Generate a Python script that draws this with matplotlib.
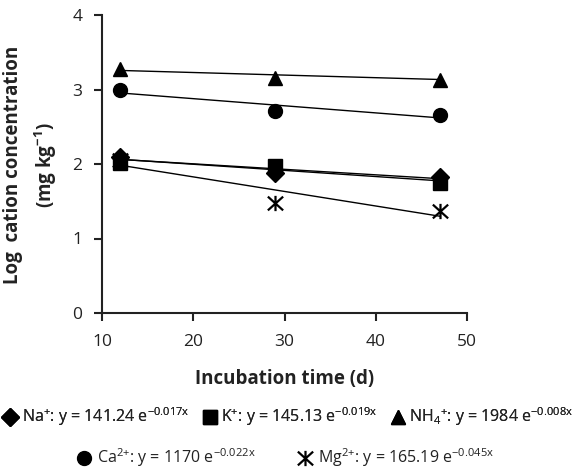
import matplotlib
matplotlib.use("Agg")
import matplotlib.pyplot as plt
import numpy as np
from matplotlib.path import Path
from matplotlib.lines import Line2D

plt.rcParams['font.family'] = ['Open Sans', 'DejaVu Sans']
plt.rcParams['mathtext.fontset'] = 'custom'
plt.rcParams['mathtext.rm'] = 'Open Sans'
plt.rcParams['mathtext.default'] = 'regular'

# ---- data ----
days = [12, 29, 47]
na_log = [2.10, 1.88, 1.82]
k_log = [2.02, 1.97, 1.75]
nh4_log = [3.27, 3.16, 3.13]
ca_log = [2.99, 2.71, 2.66]
mg_log = [2.05, 1.47, 1.37]

# exponential fit coefficients y = a * exp(b x) (from the legend)
na_fit = (141.24, -0.017)
k_fit = (145.13, -0.019)
nh4_fit = (1984, -0.008)
ca_fit = (1170, -0.022)
mg_fit = (165.19, -0.045)

labels = [
    r'Na$^{{+}}$: y = 141.24 e$^{-0.017x}$',
    r'K$^{{+}}$: y = 145.13 e$^{-0.019x}$',
    r'NH$_{4}$$^{{+}}$: y = 1984 e$^{-0.008x}$',
    r'Ca$^{2{+}}$: y = 1170 e$^{-0.022x}$',
    r'Mg$^{2{+}}$: y = 165.19 e$^{-0.045x}$',
]

xticks = [10, 20, 30, 40, 50]
yticks = [0, 1, 2, 3, 4]

star = Path([(-1, -0.9), (1, 0.9), (-1, 0.9), (1, -0.9), (0, -1), (0, 1)],
            [Path.MOVETO, Path.LINETO, Path.MOVETO, Path.LINETO, Path.MOVETO, Path.LINETO])

fig = plt.figure(figsize=(5.76, 4.76), dpi=100)
ax = fig.add_axes([102/576, 1-313/476, (467-102)/576, (313-15)/476])

series = [
    (na_log, na_fit, dict(marker='D', ms=9.5, mfc='black', mec='black')),
    (k_log, k_fit, dict(marker='s', ms=9.5, mfc='black', mec='black')),
    (nh4_log, nh4_fit, dict(marker='^', ms=10.5, mfc='black', mec='black')),
    (ca_log, ca_fit, dict(marker='o', ms=10, mfc='black', mec='black')),
    (mg_log, mg_fit, dict(marker=star, ms=11, mfc='none', mec='black', mew=1.6)),
]

handles = []
xs = np.array([days[0], days[-1]], dtype=float)
for ys, (a, b), mk in series:
    ax.plot(days, ys, linestyle='none', zorder=3, **mk)
    ax.plot(xs, np.log10(a * np.exp(b * xs)), color='black', lw=1.0, zorder=2)
    handles.append(Line2D([], [], linestyle='none', **mk))

ax.set_xlim(10, 50)
ax.set_ylim(0, 4)
ax.set_xticks(xticks)
ax.set_yticks(yticks)
for s in ['top', 'right']:
    ax.spines[s].set_visible(False)
for s in ['left', 'bottom']:
    ax.spines[s].set_linewidth(1.5)
    ax.spines[s].set_color('#222222')
ax.tick_params(direction='out', length=6, width=1.5, color='#222222', labelsize=12.5, labelcolor='#222222')
ax.tick_params(axis='x', pad=9)
ax.tick_params(axis='y', pad=8)
ax.set_xlabel('Incubation time (d)', fontsize=13.5, fontweight='bold', labelpad=14, color='#222222')
fig.text(31/576, 1-165/476, 'Log  cation concentration\n(mg kg$^{-1}$)', fontsize=13.5, fontweight='bold',
         color='#222222', rotation=90, ha='center', va='center', multialignment='center', linespacing=1.45)

leg1 = fig.legend(handles[:3], labels[:3], loc='center', bbox_to_anchor=(0.5, 1-417/476), ncol=3,
                  frameon=False, fontsize=11.5, handletextpad=0.2, columnspacing=0.8, handlelength=1.0,
                  borderpad=0.0, borderaxespad=0.0, labelcolor='#222222')
leg2 = fig.legend(handles[3:], labels[3:], loc='center', bbox_to_anchor=(0.495, 1-458/476), ncol=2,
                  frameon=False, fontsize=11.5, handletextpad=0.3, columnspacing=2.6, handlelength=1.0,
                  borderpad=0.0, borderaxespad=0.0, labelcolor='#222222')
fig.add_artist(leg1)

fig.savefig('out.png', dpi=100)
